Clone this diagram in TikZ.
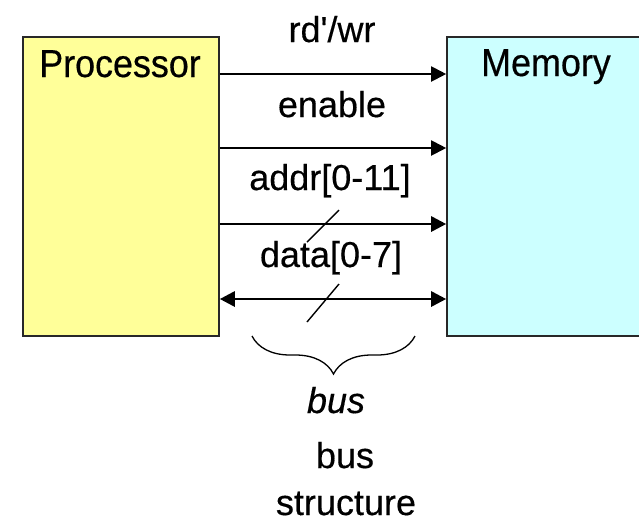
\documentclass[tikz,border=0pt]{standalone}
\usepackage{fontspec}
\setmainfont{Liberation Sans}[FakeBold=0.4]
\newfontfamily\unitfont{Liberation Sans}[FakeStretch=0.92, FakeBold=0.4]
\usetikzlibrary{arrows.meta, positioning, decorations.pathreplacing}
\definecolor{procyellow}{RGB}{255,255,153}
\definecolor{memcyan}{RGB}{204,255,255}
\definecolor{boxline}{RGB}{40,40,40}

\begin{document}
\begin{tikzpicture}[x=1pt, y=-1pt,
  unit/.style={draw=boxline, line width=1.6pt, minimum width=196pt, minimum height=299pt, inner sep=0pt},
  lbl/.style={font=\fontsize{36}{40}\selectfont, inner sep=0pt, anchor=base},
  unitlbl/.style={lbl, font=\unitfont\fontsize{39}{42}\selectfont},
  sig/.style={line width=2pt, -{Triangle[length=15pt, width=15pt]}},
  bsig/.style={line width=2.8pt, {Triangle[length=15pt, width=15pt]}-{Triangle[length=15pt, width=15pt]}},
  slash/.style={line width=1.4pt}
]
  \clip (0,0) rectangle (639,523);
  \node[unit, fill=procyellow] (proc) at (121,186.5) {};
  \node[unit, fill=memcyan, minimum width=220pt] (mem) at (557,186.5) {};
  \node[unitlbl] (proclbl) at (120,77) {Processor};
  \node[unitlbl] (memlbl) at (546,76) {Memory};

  \draw[sig] (proc.east |- 0,74) -- (mem.west |- 0,74);
  \draw[sig] (proc.east |- 0,148) -- (mem.west |- 0,148);
  \draw[sig, line width=2.8pt] (proc.east |- 0,224) -- (mem.west |- 0,224);
  \draw[bsig] (proc.east |- 0,299) -- (mem.west |- 0,299);

  \node[lbl] (rdwr) at (332,42) {rd\textquotesingle/wr};
  \node[lbl] (enable) at (332,117) {enable};
  \node[lbl] (addr) at (330,190) {addr[0-11]};
  \node[lbl] (data) at (331,267) {data[0-7]};
  \draw[slash] (307,242) -- (339,210);
  \draw[slash] (307,322) -- (339,284);

  \draw[line width=1.3pt, decorate, decoration={brace, mirror, amplitude=38pt}] (252,336) -- (415,336);
  \node[lbl] (busit) at (336,413) {\itshape bus};
  \node[lbl] (bus) at (345,468) {bus};
  \node[lbl] (struct) at (346,515) {structure};
\end{tikzpicture}
\end{document}
